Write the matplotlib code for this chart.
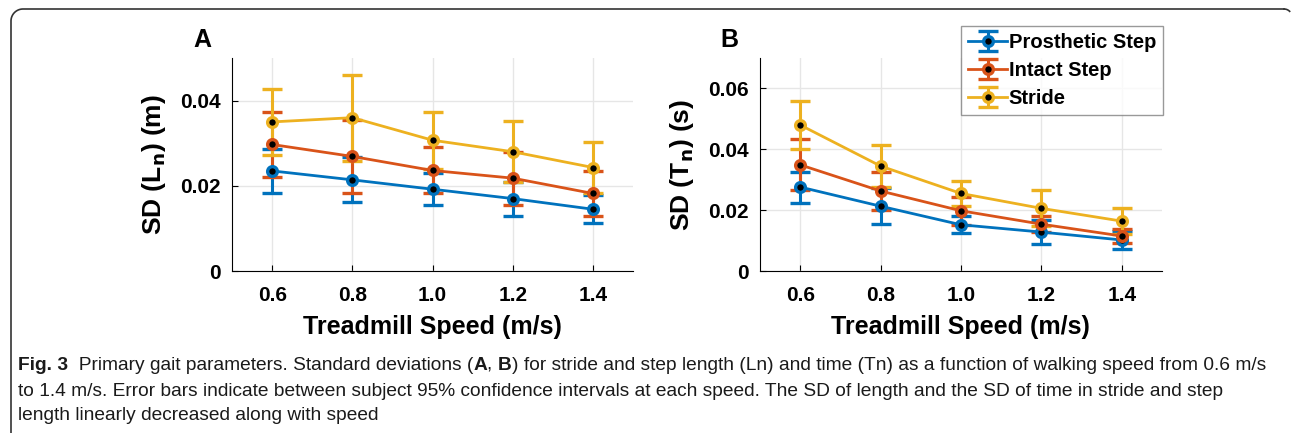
import numpy as np
import matplotlib
matplotlib.use("Agg")
import matplotlib.pyplot as plt
from matplotlib.lines import Line2D
from matplotlib.transforms import IdentityTransform

speed = [0.6, 0.8, 1.0, 1.2, 1.4]
series_names = ["Prosthetic Step", "Intact Step", "Stride"]
colors = ["#0072BD", "#D95319", "#EDB120"]

# panel A: SD of length (m)
len_mean = [
    [0.0235, 0.0214, 0.0192, 0.0170, 0.0145],
    [0.0297, 0.0269, 0.0236, 0.0218, 0.0182],
    [0.0350, 0.0360, 0.0307, 0.0280, 0.0243],
]
len_err = [
    [0.0051, 0.0053, 0.0038, 0.0040, 0.0033],
    [0.0076, 0.0085, 0.0054, 0.0062, 0.0052],
    [0.0077, 0.0101, 0.0067, 0.0071, 0.0061],
]

# panel B: SD of time (s)
time_mean = [
    [0.0276, 0.0213, 0.0152, 0.0128, 0.0102],
    [0.0349, 0.0263, 0.0198, 0.0154, 0.0115],
    [0.0480, 0.0345, 0.0255, 0.0206, 0.0164],
]
time_err = [
    [0.0051, 0.0059, 0.0028, 0.0040, 0.0031],
    [0.0084, 0.0064, 0.0046, 0.0026, 0.0023],
    [0.0080, 0.0070, 0.0042, 0.0059, 0.0042],
]

plt.rcParams['font.family'] = ['Liberation Sans', 'DejaVu Sans']

fig = plt.figure(figsize=(12.92, 4.33), dpi=100)

# frame: left edge, rounded top-left corner, top edge (pixels, origin bottom-left)
W, H = fig.bbox.width, fig.bbox.height
r = 12
t = np.linspace(np.pi, np.pi / 2, 20)
fx = np.concatenate([[11], 11 + r + r * np.cos(t), [W - 8]])
fy = np.concatenate([[0], H - 9 - r + r * np.sin(t), [H - 9]])
fig.lines.append(Line2D(fx, fy, transform=IdentityTransform(),
                        color="#333333", lw=1.2))
tr = np.linspace(np.pi / 2, np.pi / 4, 8)
fig.lines.append(Line2D(W - 8 + 8 * np.cos(tr), H - 9 - 8 + 8 * np.sin(tr),
                        transform=IdentityTransform(), color="#333333", lw=1.2))


def panel(rect, means, errs, ylim, yticks, yticklabels, ylabel, letter):
    ax = fig.add_axes(rect)
    for i in range(len(means)):
        ax.errorbar(speed, means[i], yerr=errs[i], color=colors[i], lw=2,
                    capsize=7, capthick=2.2, elinewidth=2.2,
                    marker='o', markersize=7, markerfacecolor='k',
                    markeredgecolor=colors[i], markeredgewidth=2.4,
                    label=series_names[i])
    ax.set_xlim(0.5, 1.5)
    ax.set_ylim(*ylim)
    ax.set_xticks(speed)
    ax.set_xticklabels(["0.6", "0.8", "1.0", "1.2", "1.4"])
    ax.set_yticks(yticks)
    ax.set_yticklabels(yticklabels)
    for lab in ax.get_xticklabels() + ax.get_yticklabels():
        lab.set_fontweight('bold')
        lab.set_fontsize(15)
    ax.tick_params(axis='x', direction='in', length=4, pad=11)
    ax.tick_params(axis='y', direction='in', length=4, pad=8)
    ax.spines['top'].set_visible(False)
    ax.spines['right'].set_visible(False)
    ax.grid(True, color="#e6e6e6", lw=1)
    ax.set_axisbelow(True)
    ax.set_xlabel("Treadmill Speed (m/s)", fontsize=18, fontweight='bold', labelpad=7)
    ax.set_ylabel(ylabel, fontsize=19, fontweight='bold', labelpad=9)
    ax.text(-0.075, 1.085, letter, transform=ax.transAxes, fontsize=18,
            fontweight='bold', ha='center', va='center')
    return ax


axA = panel([0.1796, 0.3741, 0.3104, 0.4919], len_mean, len_err, (0, 0.05),
            [0, 0.02, 0.04], ["0", "0.02", "0.04"], r"SD (L$_\mathbf{n}$) (m)", "A")
axB = panel([0.5882, 0.3741, 0.3111, 0.4919], time_mean, time_err, (0, 0.07),
            [0, 0.02, 0.04, 0.06], ["0", "0.02", "0.04", "0.06"],
            r"SD (T$_\mathbf{n}$) (s)", "B")

leg = axB.legend(loc='upper right', bbox_to_anchor=(1.003, 1.15),
                 prop={'weight': 'bold', 'size': 14.5}, frameon=True,
                 fancybox=False, edgecolor="#808080", handlelength=1.9,
                 handletextpad=0.1, borderpad=0.35, labelspacing=0.45,
                 borderaxespad=0)
leg.get_frame().set_linewidth(1)

# caption, drawn piece by piece so that bold parts can sit inside a line
cap_font = ['Liberation Sans', 'DejaVu Sans']
cap_size = 13.8
cap_color = "#1a1a1a"
lines = [
    [("Fig. 3", 'bold'), ("  Primary gait parameters. Standard deviations (", 'normal'),
     ("A", 'bold'), (", ", 'normal'), ("B", 'bold'),
     (") for stride and step length (Ln) and time (Tn) as a function of walking speed from 0.6 m/s", 'normal')],
    [("to 1.4 m/s. Error bars indicate between subject 95% confidence intervals at each speed. The SD of length and the SD of time in stride and step", 'normal')],
    [("length linearly decreased along with speed", 'normal')],
]
line_y = [365, 391, 416]
for k in range(len(lines)):
    prev = None
    for txt, wt in lines[k]:
        if prev is None:
            prev = fig.text(18 / 1292, 1 - line_y[k] / 433, txt, fontsize=cap_size,
                            fontweight=wt, family=cap_font, va='center', ha='left',
                            color=cap_color)
        else:
            prev = plt.annotate(txt, xy=(1, 0), xycoords=prev, va='bottom', ha='left',
                                fontsize=cap_size, fontweight=wt, family=cap_font,
                                color=cap_color, annotation_clip=False)

fig.savefig("out.png", dpi=100)
